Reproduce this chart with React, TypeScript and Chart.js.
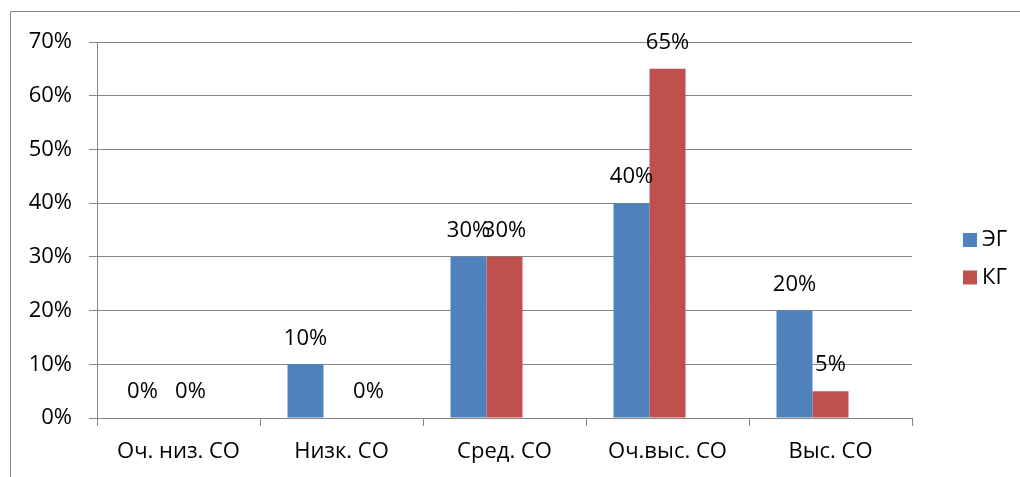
import { useEffect, useRef } from "react";
import { Chart, registerables } from "chart.js";

Chart.register(...registerables);

const categories = ["Оч. низ. СО", "Низк. СО", "Сред. СО", "Оч.выс. СО", "Выс. СО"];
const seriesNames = ["ЭГ", "КГ"];
const egValues = [0, 10, 30, 40, 20];
const kgValues = [0, 0, 30, 65, 5];
// The workbook carries a third, empty series; it keeps its slot in each group.
const emptySeries = [null, null, null, null, null];
const seriesColors = ["#4F81BD", "#C0504D", "#9BBB59"];
const yMax = 70;
const yStep = 10;

const FONT = "'Open Sans', 'Liberation Sans', sans-serif";
const FONT_SIZE = 22;
const GRID = "#868686";

// Hand-moved labels for the zero-height red bars (dataset index -> category -> dx).
const labelShiftX: Record<string, number> = { "1-0": 12, "1-1": 27 };

// Thin grey frame around the whole chart (top and left edges visible).
const framePlugin = {
  id: "frame",
  beforeDraw(chart: any) {
    const { ctx } = chart;
    ctx.save();
    ctx.strokeStyle = GRID;
    ctx.lineWidth = 1;
    ctx.beginPath();
    ctx.moveTo(10.5, chart.height + 5);
    ctx.lineTo(10.5, 11.5);
    ctx.lineTo(chart.width + 5, 11.5);
    ctx.stroke();
    ctx.restore();
  },
};

// Percent labels above each bar.
const valueLabelPlugin = {
  id: "valueLabels",
  afterDatasetsDraw(chart: any) {
    const { ctx } = chart;
    ctx.save();
    ctx.font = `${FONT_SIZE}px ${FONT}`;
    ctx.fillStyle = "#000";
    ctx.textAlign = "center";
    ctx.textBaseline = "middle";
    chart.data.datasets.forEach((ds: any, di: number) => {
      const meta = chart.getDatasetMeta(di);
      meta.data.forEach((bar: any, i: number) => {
        const v = ds.data[i];
        if (v === null || v === undefined) return;
        const dx = labelShiftX[`${di}-${i}`] || 0;
        ctx.fillText(`${v}%`, bar.x + dx, bar.y - 26);
      });
    });
    ctx.restore();
  },
};

// Legend to the right of the plot area.
const sideLegendPlugin = {
  id: "sideLegend",
  afterDraw(chart: any) {
    const { ctx, chartArea } = chart;
    ctx.save();
    ctx.font = `${FONT_SIZE}px ${FONT}`;
    ctx.textBaseline = "middle";
    ctx.textAlign = "left";
    const x = chartArea.right + 51;
    chart.data.datasets
      .filter((ds: any) => ds.label)
      .forEach((ds: any, i: number) => {
        const cy = chartArea.top + 198 + i * 37.5;
        ctx.fillStyle = ds.backgroundColor;
        ctx.fillRect(x, cy - 7, 14, 14);
        ctx.fillStyle = "#000";
        ctx.fillText(ds.label, x + 19, cy);
      });
    ctx.restore();
  },
};

export default function App() {
  const canvasRef = useRef<HTMLCanvasElement>(null);

  useEffect(() => {
    document.body.style.margin = "0";
    const canvas = canvasRef.current;
    if (!canvas) return;
    const chart = new Chart(canvas, {
      type: "bar",
      data: {
        labels: categories,
        datasets: [
          { label: seriesNames[0], data: egValues, backgroundColor: seriesColors[0] },
          { label: seriesNames[1], data: kgValues, backgroundColor: seriesColors[1] },
          { label: "", data: emptySeries as any, backgroundColor: seriesColors[2] },
        ],
      },
      options: {
        responsive: false,
        animation: false,
        devicePixelRatio: 1,
        layout: { padding: { left: 0, top: 42, right: 108, bottom: 0 } },
        datasets: {
          bar: { categoryPercentage: 0.6626, barPercentage: 1, skipNull: false },
        },
        plugins: {
          legend: { display: false },
          tooltip: { enabled: false },
        },
        scales: {
          x: {
            offset: true,
            grid: {
              offset: true,
              drawOnChartArea: false,
              drawTicks: true,
              tickLength: 8,
              color: GRID,
            },
            border: { color: GRID },
            ticks: {
              color: "#000",
              font: { family: FONT, size: FONT_SIZE },
              padding: 13,
              maxRotation: 0,
            },
            afterFit(scale: any) {
              scale.height = 59;
            },
          },
          y: {
            min: 0,
            max: yMax,
            grid: { color: GRID, tickLength: 8 },
            border: { color: GRID },
            ticks: {
              stepSize: yStep,
              color: "#000",
              font: { family: FONT, size: FONT_SIZE },
              padding: 17,
              callback: (v: any) => `${v}%`,
            },
            afterFit(scale: any) {
              scale.width = 97;
            },
          },
        },
      },
      plugins: [framePlugin, valueLabelPlugin, sideLegendPlugin],
    });
    return () => chart.destroy();
  }, []);

  return (
    <div style={{ width: 1020, height: 477, background: "#fff" }}>
      <canvas ref={canvasRef} width={1020} height={477} />
    </div>
  );
}
